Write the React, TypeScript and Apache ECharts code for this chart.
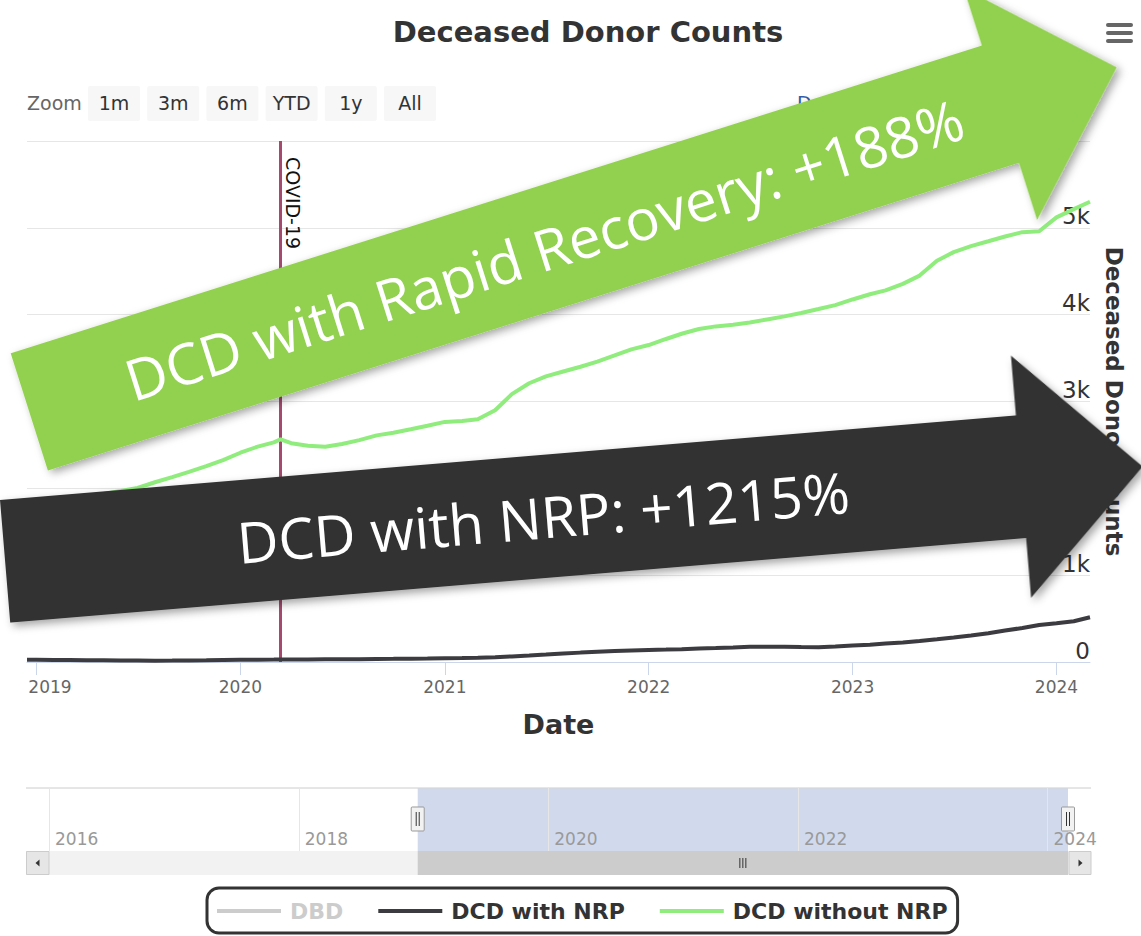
import React, { useEffect, useRef } from 'react';
import * as echarts from 'echarts';

// ---------------- data ----------------
const DATES = [
  '2018-12-15', '2019-01-01', '2019-02-01', '2019-03-01', '2019-04-01', '2019-05-01', '2019-06-01',
  '2019-07-01', '2019-08-01', '2019-09-01', '2019-10-01', '2019-11-01', '2019-12-01',
  '2020-01-01', '2020-02-01', '2020-03-01', '2020-03-13', '2020-04-01', '2020-05-01', '2020-06-01',
  '2020-07-01', '2020-08-01', '2020-09-01', '2020-10-01', '2020-11-01', '2020-12-01',
  '2021-01-01', '2021-02-01', '2021-03-01', '2021-04-01', '2021-05-01', '2021-06-01',
  '2021-07-01', '2021-08-01', '2021-09-01', '2021-10-01', '2021-11-01', '2021-12-01',
  '2022-01-01', '2022-02-01', '2022-03-01', '2022-04-01', '2022-05-01', '2022-06-01',
  '2022-07-01', '2022-08-01', '2022-09-01', '2022-10-01', '2022-11-01', '2022-12-01',
  '2023-01-01', '2023-02-01', '2023-03-01', '2023-04-01', '2023-05-01', '2023-06-01',
  '2023-07-01', '2023-08-01', '2023-09-01', '2023-10-01', '2023-11-01', '2023-12-01',
  '2024-01-01', '2024-02-01', '2024-03-01',
];

const DCD_WITHOUT_NRP = [
  1840, 1850, 1865, 1880, 1900, 1935, 1970,
  2005, 2070, 2130, 2190, 2255, 2325,
  2410, 2480, 2530, 2565, 2520, 2490, 2480,
  2510, 2555, 2610, 2640, 2680, 2720,
  2765, 2775, 2795, 2900, 3085, 3210,
  3290, 3345, 3400, 3460, 3530, 3600,
  3650, 3720, 3780, 3835, 3865, 3885,
  3910, 3945, 3980, 4020, 4065, 4110,
  4175, 4235, 4280, 4355, 4450, 4620,
  4720, 4790, 4845, 4900, 4950, 4960,
  5120, 5215, 5300,
];

const DCD_WITH_NRP = [
  25, 25, 24, 23, 21, 19, 17,
  16, 15, 16, 18, 20, 23,
  25, 27, 29, 30, 30, 30, 31,
  32, 33, 35, 36, 38, 40,
  43, 46, 50, 56, 64, 74,
  85, 97, 108, 118, 126, 132,
  138, 143, 148, 155, 161, 168,
  175, 177, 177, 174, 171, 178,
  190, 200, 212, 225, 242, 262,
  282, 305, 332, 362, 392, 425,
  445, 470, 515,
];

// DBD is switched off in the legend; its values are not visible in the picture.
const DBD: number[] = [];

const SERIES_NAMES = ['DBD', 'DCD with NRP', 'DCD without NRP'];
const MAIN_YEAR_TICKS = ['2019-01-01', '2020-01-01', '2021-01-01', '2022-01-01', '2023-01-01', '2024-01-01'];
const NAV_YEAR_TICKS = ['2016-01-01', '2018-01-01', '2020-01-01', '2022-01-01', '2024-01-01'];
const VIEW_START = '2018-12-15';
const VIEW_END = '2024-03-01';
const NAV_START = '2016-01-01';
const COVID_DATE = '2020-03-13';
const COVID_LABEL = 'COVID-19';
const ZOOM_BUTTONS = ['1m', '3m', '6m', 'YTD', '1y', 'All'];
const RANGE_FROM_TEXT = 'Dec 15, 2018';
const Y_MAX = 6000;
const Y_STEP = 1000;
const ARROW_TEXTS = ['DCD with Rapid Recovery: +188%', 'DCD with NRP: +1215%'];

// ---------------- layout / style ----------------
const FONT = 'DejaVu Sans';
const ARROW_LAYOUT = [
  { x: 10.7, y: 353.3, angleDeg: 17.57, color: '#92d050' },
  { x: 0, y: 500, angleDeg: 4.76, color: '#333333' },
];
const ARROW_BODY_LEN = 1019;
const ARROW_THICK = 123;
const ARROW_HEAD_EXT = 60;
const ARROW_HEAD_LEN = 122;

const t = (s: string) => {
  const [y, m, d] = s.split('-').map(Number);
  return new Date(y, m - 1, d).getTime();
};

const kFormatter = (v: number) => (v === 0 ? '0' : `${v / 1000}k`);

export default function App() {
  const ref = useRef<HTMLDivElement>(null);

  useEffect(() => {
    document.body.style.margin = '0';
    if (!ref.current) return;
    const chart = echarts.init(ref.current, undefined, { renderer: 'svg' });

    const mainTicks = MAIN_YEAR_TICKS.map(t);
    const navTicks = NAV_YEAR_TICKS.map(t);

    const option: any = {
      animation: false,
      backgroundColor: '#ffffff',
      textStyle: { fontFamily: FONT },
      title: {
        text: 'Deceased Donor Counts',
        left: 583,
        top: 12,
        textAlign: 'center',
        textStyle: { fontSize: 29, fontWeight: 'bold', color: '#333333', fontFamily: FONT },
      },
      legend: {
        data: SERIES_NAMES,
        selected: { DBD: false },
        left: 207,
        top: 888,
        icon: 'rect',
        itemWidth: 64,
        itemHeight: 4,
        itemGap: 35,
        inactiveColor: '#cccccc',
        borderColor: '#333333',
        borderWidth: 3,
        borderRadius: 12,
        padding: [12, 10, 11, 10],
        textStyle: { fontSize: 22, fontWeight: 'bold', color: '#333333', fontFamily: FONT, padding: [0, 0, 0, 4] },
      },
      grid: [
        { left: 27, right: 51, top: 141, height: 521 },
        { left: 49, right: 73, top: 788, height: 63 },
      ],
      xAxis: [
        {
          type: 'value',
          gridIndex: 0,
          min: t(VIEW_START),
          max: t(VIEW_END),
          name: 'Date',
          nameLocation: 'middle',
          nameGap: 49,
          nameTextStyle: { fontSize: 27, fontWeight: 'bold', color: '#333333', fontFamily: FONT },
          axisLine: { show: true, onZero: false, lineStyle: { color: '#ccd6eb', width: 1 } },
          axisTick: { show: true, length: 13, lineStyle: { color: '#ccd6eb' }, customValues: mainTicks },
          axisLabel: {
            customValues: mainTicks,
            color: '#666666',
            fontSize: 17,
            margin: 16,
            showMinLabel: true,
            showMaxLabel: true,
            formatter: (v: number) => {
              const y = new Date(v).getFullYear();
              return v === mainTicks[0] ? `{first|${y}}` : `${y}`;
            },
            rich: { first: { fontSize: 17, color: '#666666', padding: [0, 0, 0, 27] } },
          },
          splitLine: { show: false },
        },
        {
          type: 'value',
          gridIndex: 1,
          min: t(NAV_START),
          max: t(VIEW_END),
          axisLine: { show: false },
          axisTick: { show: true, inside: true, length: 63, lineStyle: { color: '#e6e6e6' }, customValues: navTicks },
          axisLabel: {
            inside: true,
            customValues: navTicks,
            color: '#999999',
            fontSize: 17,
            align: 'left',
            margin: 4,
            padding: [0, 0, 0, 6],
            formatter: (v: number) => `${new Date(v).getFullYear()}`,
          },
          splitLine: { show: false },
        },
      ],
      yAxis: [
        {
          type: 'value',
          gridIndex: 0,
          position: 'right',
          min: 0,
          max: Y_MAX,
          interval: Y_STEP,
          name: 'Deceased Donor Counts',
          nameLocation: 'middle',
          nameRotate: -90,
          nameGap: 12,
          nameTextStyle: { fontSize: 23, fontWeight: 'bold', color: '#333333', fontFamily: FONT },
          axisLine: { show: false },
          axisTick: { show: false },
          axisLabel: {
            inside: true,
            showMaxLabel: false,
            margin: 0,
            color: '#333333',
            fontSize: 23,
            verticalAlign: 'bottom',
            formatter: kFormatter,
          },
          splitLine: { lineStyle: { color: '#e6e6e6', width: 1 } },
        },
        { type: 'value', gridIndex: 1, show: false, min: 0, max: 1 },
      ],
      series: [
        {
          name: 'DBD',
          type: 'line',
          xAxisIndex: 0,
          yAxisIndex: 0,
          color: '#7cb5ec',
          showSymbol: false,
          data: DBD.map((v, i) => [t(DATES[i]), v]),
        },
        {
          name: 'DCD with NRP',
          type: 'line',
          xAxisIndex: 0,
          yAxisIndex: 0,
          color: '#3c3c40',
          showSymbol: false,
          lineStyle: { width: 4 },
          z: 3,
          data: DATES.map((d, i) => [t(d), DCD_WITH_NRP[i]]),
        },
        {
          name: 'DCD without NRP',
          type: 'line',
          xAxisIndex: 0,
          yAxisIndex: 0,
          color: '#90ed7d',
          showSymbol: false,
          lineStyle: { width: 4 },
          z: 3,
          data: DATES.map((d, i) => [t(d), DCD_WITHOUT_NRP[i]]),
          markLine: {
            silent: true,
            symbol: ['none', 'none'],
            label: { show: false },
            lineStyle: { color: '#a34a6d', width: 3, type: 'solid' },
            data: [{ xAxis: t(COVID_DATE) }],
            z: 2,
          },
        },
        {
          name: 'nav',
          type: 'line',
          xAxisIndex: 1,
          yAxisIndex: 1,
          data: [],
        },
      ],
    };

    chart.setOption(option);

    const px = (v: number) => chart.convertToPixel({ xAxisIndex: 0 }, v) as number;
    const nx = (v: number) => chart.convertToPixel({ xAxisIndex: 1 }, v) as number;

    const selA = nx(t(VIEW_START));
    const selB = nx(t(VIEW_END));
    const covidX = px(t(COVID_DATE));

    const graphics: any[] = [];

    // Zoom buttons row
    graphics.push({
      type: 'text', x: 27, y: 103,
      style: { text: 'Zoom', fill: '#666666', fontSize: 19, fontFamily: FONT, align: 'left', verticalAlign: 'middle', textAlign: 'left', textVerticalAlign: 'middle' },
    });
    ZOOM_BUTTONS.forEach((label, i) => {
      const bx = 88 + i * 59.2;
      graphics.push({ type: 'rect', shape: { x: bx, y: 86, width: 52, height: 35, r: 2 }, style: { fill: '#f7f7f7' } });
      graphics.push({
        type: 'text', x: bx + 26, y: 103,
        style: { text: label, fill: '#333333', fontSize: 19, fontFamily: FONT, align: 'center', verticalAlign: 'middle', textAlign: 'center', textVerticalAlign: 'middle' },
      });
    });
    graphics.push({
      type: 'text', x: 797, y: 103,
      style: { text: RANGE_FROM_TEXT, fill: '#335cad', fontSize: 19, fontFamily: FONT, align: 'left', verticalAlign: 'middle', textAlign: 'left', textVerticalAlign: 'middle' },
    });

    // hamburger menu
    [23, 31, 39].forEach((yy) => {
      graphics.push({ type: 'rect', shape: { x: 1106, y: yy, width: 27, height: 4, r: 2 }, style: { fill: '#666666' } });
    });

    // COVID label
    graphics.push({
      type: 'text', x: covidX + 12, y: 157, rotation: -Math.PI / 2,
      style: { text: COVID_LABEL, fill: '#111111', fontSize: 19, fontFamily: FONT, align: 'left', verticalAlign: 'middle', textAlign: 'left', textVerticalAlign: 'middle' },
      z: 5,
    });

    // navigator
    graphics.push({ type: 'line', shape: { x1: 26, y1: 788, x2: 1091, y2: 788 }, style: { stroke: '#cccccc', lineWidth: 1 } });
    graphics.push({ type: 'rect', shape: { x: selA, y: 788.5, width: selB - selA, height: 62.5 }, style: { fill: 'rgba(102,133,194,0.3)' } });
    // scrollbar
    graphics.push({ type: 'rect', shape: { x: 26, y: 851, width: 1065, height: 24 }, style: { fill: '#f2f2f2' } });
    graphics.push({ type: 'rect', shape: { x: selA, y: 851, width: selB - selA, height: 24 }, style: { fill: '#cccccc' } });
    graphics.push({ type: 'rect', shape: { x: 26.5, y: 851.5, width: 22.5, height: 23 }, style: { fill: '#e6e6e6', stroke: '#cccccc', lineWidth: 1 } });
    graphics.push({ type: 'rect', shape: { x: 1069, y: 851.5, width: 22, height: 23 }, style: { fill: '#e6e6e6', stroke: '#cccccc', lineWidth: 1 } });
    graphics.push({ type: 'polygon', shape: { points: [[35.5, 863], [39.5, 859.5], [39.5, 866.5]] }, style: { fill: '#333333' } });
    graphics.push({ type: 'polygon', shape: { points: [[1082.5, 863], [1078.5, 859.5], [1078.5, 866.5]] }, style: { fill: '#333333' } });
    const mid = (selA + selB) / 2;
    [-3, 0, 3].forEach((dx) => {
      graphics.push({ type: 'line', shape: { x1: mid + dx, y1: 858, x2: mid + dx, y2: 868 }, style: { stroke: '#333333', lineWidth: 1 } });
    });
    // handles
    [selA, selB].forEach((hx) => {
      graphics.push({ type: 'rect', shape: { x: hx - 6.5, y: 807, width: 13, height: 24, r: 1 }, style: { fill: '#f2f2f2', stroke: '#999999', lineWidth: 1 }, z: 10 });
      [-1.5, 1.5].forEach((dx) => {
        graphics.push({ type: 'line', shape: { x1: hx + dx, y1: 812, x2: hx + dx, y2: 826 }, style: { stroke: '#333333', lineWidth: 1 }, z: 11 });
      });
    });

    // big arrows
    ARROW_LAYOUT.forEach((a, i) => {
      const L = ARROW_BODY_LEN, T = ARROW_THICK, H = ARROW_HEAD_EXT, HL = ARROW_HEAD_LEN;
      graphics.push({
        type: 'group',
        x: a.x,
        y: a.y,
        rotation: (a.angleDeg * Math.PI) / 180,
        z: 100,
        children: [
          {
            type: 'polygon',
            z: 100,
            shape: { points: [[0, 0], [L, 0], [L, -H], [L + HL, T / 2], [L, T + H], [L, T], [0, T]] },
            style: { fill: a.color, shadowBlur: 8, shadowColor: 'rgba(0,0,0,0.35)', shadowOffsetX: 3, shadowOffsetY: 4 },
          },
          {
            type: 'text',
            z: 101,
            x: 540,
            y: T / 2,
            style: {
              text: ARROW_TEXTS[i], fill: '#ffffff', fontSize: 57, fontFamily: 'Open Sans',
              align: 'center', verticalAlign: 'middle', textAlign: 'center', textVerticalAlign: 'middle',
            },
          },
        ],
      });
    });

    chart.setOption({ graphic: graphics });

    return () => chart.dispose();
  }, []);

  return <div ref={ref} style={{ position: 'absolute', left: 0, top: 0, width: 1141, height: 936 }} />;
}
